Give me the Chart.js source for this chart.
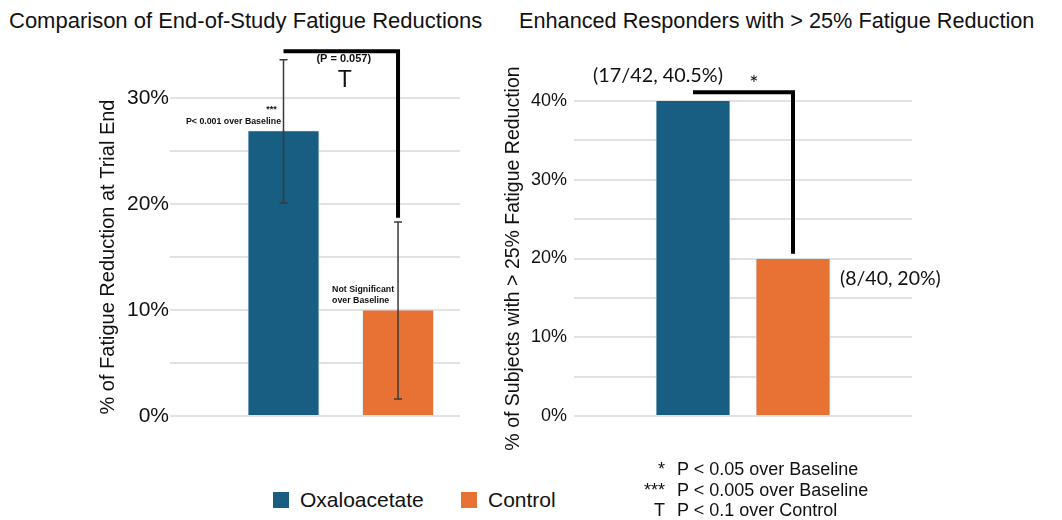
<!DOCTYPE html>
<html>
<head>
<meta charset="utf-8">
<script src="https://cdn.jsdelivr.net/npm/chart.js@4.4.1/dist/chart.umd.min.js"></script>
<style>
  body { margin: 0; background: #fff; font-family: "Liberation Sans", Arial, sans-serif; color: #111; }
  #wrap { position: relative; width: 1062px; height: 520px; overflow: hidden; }
  .box { position: absolute; }
  .title { position: absolute; top: 8px; font-size: 22px; white-space: nowrap; }
  .legend { position: absolute; top: 488px; font-size: 21px; white-space: nowrap; }
  .legend span.sq { display: inline-block; width: 16px; height: 16px; vertical-align: -1px; margin-right: 11px; }
  .foot { position: absolute; left: 638px; font-size: 18px; white-space: nowrap; }
  .foot b { display: inline-block; width: 27px; text-align: right; margin-right: 12px; font-weight: normal; }
</style>
</head>
<body>
<div id="wrap">
  <div class="title" style="left:9px">Comparison of End-of-Study Fatigue Reductions</div>
  <div class="title" style="left:519px;font-size:21.7px">Enhanced Responders with &gt; 25% Fatigue Reduction</div>

  <div class="box" style="left:0;top:0;width:520px;height:440px"><canvas id="left"></canvas></div>
  <div class="box" style="left:490px;top:0;width:572px;height:480px"><canvas id="right"></canvas></div>

  <div class="legend" style="left:273px"><span class="sq" style="background:#175e82"></span>Oxaloacetate</div>
  <div class="legend" style="left:461px"><span class="sq" style="background:#e87234"></span>Control</div>

  <div class="foot" style="top:459px"><b>*</b>P &lt; 0.05 over Baseline</div>
  <div class="foot" style="top:480px"><b>***</b>P &lt; 0.005 over Baseline</div>
  <div class="foot" style="top:500px"><b>T</b>P &lt; 0.1 over Control</div>
</div>

<script>
// ---- data ----
const groups = ['Oxaloacetate', 'Control'];
const groupColors = ['#175e82', '#e87234'];

// left chart: mean fatigue reduction at trial end (%), with error bar ends
const fatigueValues = [26.9, 10.0];
const fatigueErrLow = [20.1, 1.6];
const fatigueErrHigh = [33.6, 18.3];
const fatigueTicks = [0, 10, 20, 30];
const fatigueBracket = [34.4, 18.7];   // bracket top, end over Control

// right chart: responders with > 25% reduction (%)
const responderValues = [40.5, 20.0];
const responderLabels = ['(17/42, 40.5%)', '(8/40, 20%)'];
const responderTicks = [0, 10, 20, 30, 40];
const responderBracket = [41.1, 20.6];

const FONT = '"Liberation Sans", Arial, sans-serif';

/** helpers */
function text(ctx, str, x, y, font, align) {
    ctx.font = font;
    ctx.textAlign = align || 'center';
    ctx.textBaseline = 'middle';
    ctx.fillStyle = '#111';
    ctx.fillText(str, x, y);
}

function drawBracket(chart, values) {
    const { ctx, scales: { x, y } } = chart;
    const x0 = x.getPixelForValue(0);
    const x1 = x.getPixelForValue(1);
    const top = y.getPixelForValue(values[0]);
    const end = y.getPixelForValue(values[1]);
    ctx.save();
    ctx.strokeStyle = '#000';
    ctx.lineWidth = 4;
    ctx.lineJoin = 'miter';
    ctx.beginPath();
    ctx.moveTo(x0, top);
    ctx.lineTo(x1, top);
    ctx.lineTo(x1, end);
    ctx.stroke();
    ctx.restore();
}

const leftExtras = {
    id: 'leftExtras',
    afterDatasetsDraw(chart) {
        const { ctx, scales: { x, y } } = chart;
        ctx.save();
        // error bars
        ctx.strokeStyle = '#3a3a3a';
        ctx.lineWidth = 1.5;
        for (let i = 0; i < groups.length; i++) {
            const px = x.getPixelForValue(i);
            const lo = y.getPixelForValue(fatigueErrLow[i]);
            const hi = y.getPixelForValue(fatigueErrHigh[i]);
            ctx.beginPath();
            ctx.moveTo(px, lo); ctx.lineTo(px, hi);
            ctx.moveTo(px - 4, lo); ctx.lineTo(px + 4, lo);
            ctx.moveTo(px - 4, hi); ctx.lineTo(px + 4, hi);
            ctx.stroke();
        }
        ctx.restore();

        drawBracket(chart, fatigueBracket);

        // annotations
        const b0 = x.getPixelForValue(0), b1 = x.getPixelForValue(1);
        const t0 = y.getPixelForValue(fatigueValues[0]);
        const t1 = y.getPixelForValue(fatigueValues[1]);
        const top = y.getPixelForValue(fatigueBracket[0]);
        ctx.save();
        text(ctx, '***', b0 - 12, t0 - 21, 'bold 9px ' + FONT);
        text(ctx, 'P< 0.001 over Baseline', b0 - 50, t0 - 9, 'bold 8.8px ' + FONT);
        text(ctx, 'Not Significant', b1 - 66, t1 - 20, 'bold 8.8px ' + FONT, 'left');
        text(ctx, 'over Baseline', b1 - 66, t1 - 9, 'bold 8.8px ' + FONT, 'left');
        text(ctx, '(P = 0.057)', (b0 + b1) / 2 + 3, top + 8, 'bold 11px ' + FONT);
        text(ctx, 'T', (b0 + b1) / 2 + 4, top + 29, '23px ' + FONT);
        ctx.restore();
    }
};

const rightExtras = {
    id: 'rightExtras',
    afterDatasetsDraw(chart) {
        const { ctx, scales: { x, y } } = chart;
        drawBracket(chart, responderBracket);
        const b0 = x.getPixelForValue(0), b1 = x.getPixelForValue(1);
        const t0 = y.getPixelForValue(responderValues[0]);
        const t1 = y.getPixelForValue(responderValues[1]);
        const top = y.getPixelForValue(responderBracket[0]);
        ctx.save();
        text(ctx, responderLabels[0], b0 - 35, t0 - 21, '19.8px Lato, ' + FONT);
        text(ctx, '*', (b0 + b1) / 2 + 11, top - 8, '22px Lato, ' + FONT);
        text(ctx, responderLabels[1], b1 + 47, t1 + 20, '19.5px Lato, ' + FONT, 'left');
        ctx.restore();
    }
};

function makeChart(canvas, cfg) {
    return new Chart(canvas.getContext('2d'), {
        type: 'bar',
        data: {
            datasets: [{
                data: cfg.values.map((v, i) => ({ x: i, y: v })),
                backgroundColor: groupColors,
                borderColor: '#d6e4ec',
                borderWidth: 0.8,
                barThickness: cfg.barWidth
            }]
        },
        options: {
            responsive: true,
            maintainAspectRatio: false,
            animation: false,
            layout: { padding: cfg.padding },
            plugins: { legend: { display: false }, tooltip: { enabled: false } },
            scales: {
                x: { type: 'linear', offset: false, min: cfg.xRange[0], max: cfg.xRange[1], display: false },
                y: {
                    min: 0,
                    max: cfg.ticks[cfg.ticks.length - 1],
                    border: { display: false },
                    grid: { color: '#e2e2e2', lineWidth: 2, drawTicks: false },
                    ticks: {
                        stepSize: 5,
                        padding: cfg.tickPad,
                        color: '#111',
                        font: { family: FONT, size: cfg.tickSize },
                        callback: v => cfg.ticks.includes(v) ? v + '%' : ''
                    },
                    title: {
                        display: true,
                        text: cfg.yTitle,
                        color: '#111',
                        font: { family: FONT, size: cfg.titleSize },
                        padding: { top: 4, bottom: 4 }
                    },
                    afterFit: s => { s.width = cfg.axisWidth; }
                }
            }
        },
        plugins: [cfg.extras]
    });
}

makeChart(document.getElementById('left'), {
    values: fatigueValues,
    ticks: fatigueTicks,
    yTitle: '% of Fatigue Reduction at Trial End',
    barWidth: 71,
    xRange: [-0.991, 1.541],
    padding: { left: 92, right: 60, top: 98, bottom: 24 },
    axisWidth: 78,
    tickPad: 1,
    tickSize: 21,
    titleSize: 20,
    extras: leftExtras
});

makeChart(document.getElementById('right'), {
    values: responderValues,
    ticks: responderTicks,
    yTitle: '% of Subjects with > 25% Fatigue Reduction',
    barWidth: 74,
    xRange: [-1.19, 2.19],
    padding: { left: 8, right: 150, top: 101, bottom: 64 },
    axisWidth: 76,
    tickPad: 7,
    tickSize: 18,
    titleSize: 19.5,
    extras: rightExtras
});
</script>
</body>
</html>
